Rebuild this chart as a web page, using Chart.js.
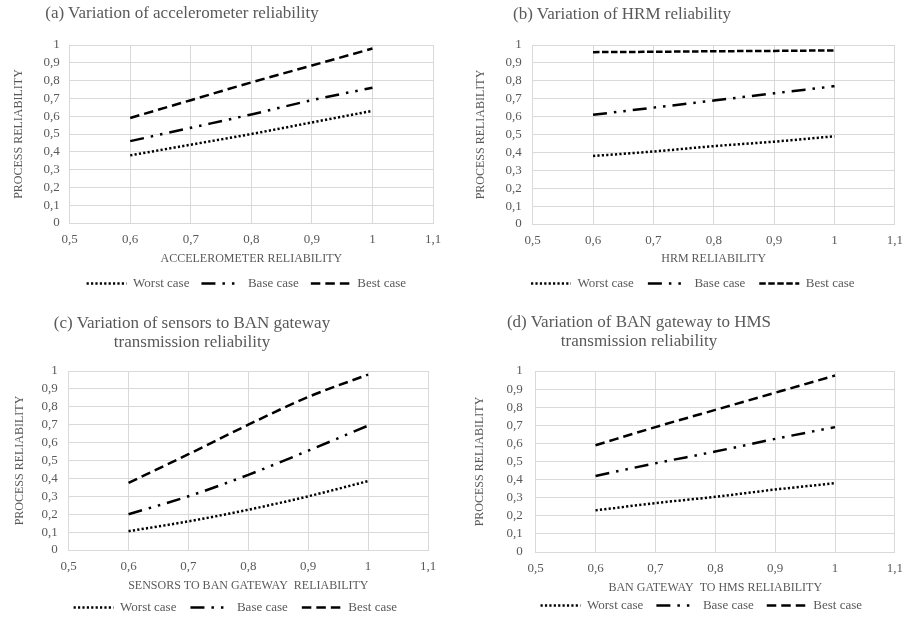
<!DOCTYPE html>
<html>
<head>
<meta charset="utf-8">
<script src="https://cdn.jsdelivr.net/npm/chart.js@4/dist/chart.umd.min.js"></script>
<style>
  body { margin: 0; background: #fff; }
  #wrap { position: relative; width: 903px; height: 618px; overflow: hidden; }
  .panel { position: absolute; }
  .panel canvas { position: absolute; left: 0; top: 0; }
  .ttl {
    position: absolute; width: 400px; text-align: center;
    font-family: 'Liberation Serif', 'Times New Roman', serif;
    font-size: 17px; line-height: 18.5px; color: #595959; white-space: nowrap;
  }
</style>
</head>
<body>
<div id="wrap">
  <div class="panel" style="left:0;top:0;width:451px;height:300px">
    <canvas id="chartA" width="451" height="300"></canvas>
    <div class="ttl" style="left:-18px;top:4px">(a) Variation of accelerometer reliability</div>
  </div>
  <div class="panel" style="left:451px;top:0;width:452px;height:300px">
    <canvas id="chartB" width="452" height="300"></canvas>
    <div class="ttl" style="left:-29px;top:5px">(b) Variation of HRM reliability</div>
  </div>
  <div class="panel" style="left:0;top:300px;width:451px;height:324px">
    <canvas id="chartC" width="451" height="324"></canvas>
    <div class="ttl" style="left:-8px;top:14px">(c) Variation of sensors to BAN gateway<br>transmission reliability</div>
  </div>
  <div class="panel" style="left:451px;top:300px;width:452px;height:322px">
    <canvas id="chartD" width="452" height="322"></canvas>
    <div class="ttl" style="left:-12px;top:13px">(d) Variation of BAN gateway to HMS<br>transmission reliability</div>
  </div>
</div>
<script>
// x positions shared by all four panels
const xValues = [0.6, 0.7, 0.8, 0.9, 1.0];
const seriesNames = ['Worst case', 'Base case', 'Best case'];

// (a) accelerometer
const aWorst = [0.38, 0.44, 0.50, 0.565, 0.63];
const aBase  = [0.46, 0.535, 0.61, 0.69, 0.76];
const aBest  = [0.59, 0.69, 0.79, 0.885, 0.98];
// (b) HRM
const bWorst = [0.38, 0.405, 0.435, 0.46, 0.49];
const bBase  = [0.61, 0.65, 0.69, 0.73, 0.77];
const bBest  = [0.96, 0.962, 0.965, 0.967, 0.97];
// (c) sensors -> BAN gateway
const cWorst = [0.105, 0.16, 0.225, 0.30, 0.385];
const cBase  = [0.20, 0.30, 0.42, 0.555, 0.695];
const cBest  = [0.375, 0.535, 0.70, 0.855, 0.98];
// (d) BAN gateway -> HMS
const dWorst = [0.23, 0.27, 0.305, 0.345, 0.38];
const dBase  = [0.42, 0.49, 0.555, 0.625, 0.69];
const dBest  = [0.59, 0.69, 0.785, 0.88, 0.975];

const xTitles = ['ACCELEROMETER RELIABILITY', 'HRM RELIABILITY',
  'SENSORS TO BAN GATEWAY  RELIABILITY', 'BAN GATEWAY  TO HMS RELIABILITY'];
const yTitle = 'PROCESS RELIABILITY';

const dotted = [2.2, 2.2];
const dashDotDot = [14, 7, 2.5, 7, 2.5, 7];
const longDash = [9.5, 5];
const shortDash = [6.5, 2.5];

Chart.defaults.font.family = "'Liberation Serif', 'Times New Roman', serif";
Chart.defaults.color = '#595959';

function pts(ys) {
    return xValues.map((x, i) => ({ x: x, y: ys[i] }));
}

function fmt(v) {
    return String(Math.round(v * 10) / 10).replace('.', ',');
}

// the original legends sit a bit left of the plot centre
const legendShift = {
    id: 'legendShift',
    afterLayout(chart, args, opts) {
        const lg = chart.legend;
        if (lg && opts.dx) {
            lg.left -= opts.dx;
            lg.right -= opts.dx;
        }
    }
};

function makeChart(id, series, dashes, xTitle, lay) {
    const ctx = document.getElementById(id).getContext('2d');
    return new Chart(ctx, {
        type: 'line',
        data: {
            datasets: series.map((ys, i) => ({
                label: seriesNames[i],
                data: pts(ys),
                borderColor: '#000',
                backgroundColor: '#000',
                borderWidth: 2.5,
                borderDash: dashes[i],
                pointRadius: 0,
                fill: false,
                cubicInterpolationMode: 'monotone'
            }))
        },
        plugins: [legendShift],
        options: {
            responsive: false,
            animation: false,
            layout: { padding: lay.pad },
            plugins: {
                tooltip: { enabled: false },
                legendShift: { dx: lay.legendDx },
                legend: {
                    position: 'bottom',
                    fullSize: false,
                    labels: {
                        usePointStyle: true,
                        pointStyle: 'line',
                        pointStyleWidth: 40,
                        padding: lay.legendPad,
                        font: { size: 13 },
                        generateLabels: function(chart) {
                            // point-style legends drop the dataset dash, put it back
                            const items = Chart.defaults.plugins.legend.labels.generateLabels(chart);
                            items.forEach(it => {
                                const ds = chart.data.datasets[it.datasetIndex];
                                it.lineDash = ds.borderDash;
                                it.lineWidth = ds.borderWidth;
                                it.strokeStyle = ds.borderColor;
                                it.pointStyle = 'line';
                            });
                            return items;
                        }
                    }
                }
            },
            scales: {
                x: {
                    type: 'linear',
                    min: 0.5, max: 1.1,
                    ticks: { stepSize: 0.1, autoSkip: false, font: { size: 13 }, padding: 0, callback: fmt },
                    // invisible tick marks give the label gap without widening the right margin
                    grid: { color: '#d9d9d9', drawTicks: true, tickLength: lay.xTickLen, tickColor: 'rgba(0,0,0,0)' },
                    border: { color: '#d9d9d9' },
                    title: { display: true, text: xTitle, font: { size: 12 }, padding: { top: lay.xTitleTop, bottom: lay.xTitleBottom } }
                },
                y: {
                    min: 0, max: 1,
                    ticks: { stepSize: 0.1, autoSkip: false, font: { size: 13 }, padding: lay.yTickPad, callback: fmt },
                    grid: { color: '#d9d9d9', drawTicks: false },
                    border: { color: '#d9d9d9' },
                    title: { display: true, text: yTitle, font: { size: 12 }, padding: { top: 0, bottom: lay.yTitleIn } }
                }
            }
        }
    });
}

makeChart('chartA', [aWorst, aBase, aBest], [dotted, dashDotDot, longDash], xTitles[0], {
    pad: { top: 45, left: 12, right: 18, bottom: 0 },
    legendPad: 12, legendDx: 5, xTickLen: 9, xTitleTop: 4, xTitleBottom: -1, yTickPad: 10, yTitleIn: 7
});
makeChart('chartB', [bWorst, bBase, bBest], [dotted, dashDotDot, shortDash], xTitles[1], {
    pad: { top: 45, left: 23, right: 2, bottom: 0 },
    legendPad: 14, legendDx: 21, xTickLen: 9, xTitleTop: 3, xTitleBottom: -3, yTickPad: 11, yTitleIn: 6
});
makeChart('chartC', [cWorst, cBase, cBest], [dotted, dashDotDot, longDash], xTitles[2], {
    pad: { top: 71, left: 13, right: 23, bottom: 0 },
    legendPad: 14, legendDx: 13, xTickLen: 9, xTitleTop: 4, xTitleBottom: -6, yTickPad: 11, yTitleIn: 3
});
makeChart('chartD', [dWorst, dBase, dBest], [dotted, dashDotDot, longDash], xTitles[3], {
    pad: { top: 71, left: 22, right: 2, bottom: 0 },
    legendPad: 13, legendDx: 14, xTickLen: 9, xTitleTop: 4, xTitleBottom: -9, yTickPad: 13, yTitleIn: 6
});
</script>
</body>
</html>
